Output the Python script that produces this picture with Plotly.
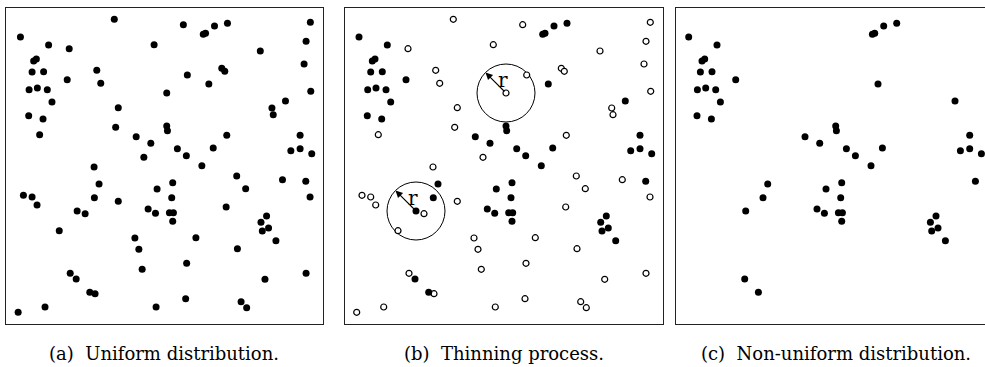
import plotly.graph_objects as go

# Point coordinates inside each square window (x from the left edge, y from the bottom edge)
kept_x = [14.5, 42.8, 27.8, 30.5, 26.2, 37.8, 61.5, 23.2, 31.5, 41.5, 46.2, 22.8, 37.2,
          161.5, 162.2, 130.8, 145.5, 198.2, 200.5, 209.5, 222.5, 203.8, 280.8, 295.5,
          172.2, 181.2, 208.2, 286.2, 295.5, 307.2, 196.8, 93.5, 88.8, 71.5, 151.8,
          142.8, 150.2, 70.5, 84.2, 167.5, 166.5, 164.2, 168.2, 167.5, 301.2, 261.8,
          256.2, 263.8, 257.5, 271.2]
kept_y = [287.0, 279.0, 263.0, 265.0, 252.0, 252.3, 244.3, 234.3, 236.0, 234.3, 222.0,
          208.3, 205.0, 198.0, 193.3, 187.3, 180.7, 289.7, 290.7, 298.0, 300.7, 240.0,
          223.0, 188.7, 175.3, 168.3, 176.0, 173.3, 175.3, 170.3, 158.3, 140.0, 126.3,
          113.0, 135.0, 115.0, 110.7, 45.0, 31.7, 141.3, 126.3, 111.3, 111.3, 102.7,
          142.7, 108.0, 101.7, 96.0, 93.0, 83.3]

thinned_x = [108.8, 63.5, 148.8, 91.2, 95.2, 161.5, 112.8, 33.8, 110.2, 138.5, 88.5,
             178.2, 305.8, 301.5, 255.5, 299.5, 216.8, 219.8, 182.2, 306.2, 267.2, 268.5,
             221.8, 17.5, 26.2, 31.2, 79.5, 112.8, 53.5, 129.5, 133.5, 136.8, 64.5, 89.5,
             12.2, 39.2, 150.8, 231.8, 240.8, 277.8, 305.5, 221.2, 190.8, 232.5, 181.5,
             301.5, 260.2, 180.5, 236.2, 241.8]
thinned_y = [304.7, 275.3, 279.3, 253.7, 240.7, 231.0, 216.3, 189.3, 196.7, 166.7, 157.0,
             299.3, 301.7, 282.7, 273.0, 260.0, 255.7, 252.7, 249.0, 232.7, 216.0, 209.3,
             188.7, 128.7, 127.0, 119.0, 110.3, 122.7, 93.3, 86.0, 74.7, 54.7, 50.7, 30.3,
             11.7, 17.0, 17.0, 148.0, 135.3, 144.3, 127.0, 117.0, 86.3, 75.3, 60.7,
             50.7, 44.7, 25.3, 22.3, 16.3]

# Thinning discs (centre taken from the two sets) and radius
disc_centres = [(thinned_x[5], thinned_y[5]), (kept_x[33], kept_y[33])]
disc_radius = 29.0

captions = ["(a)\u00a0\u00a0Uniform distribution.",
            "(b)\u00a0\u00a0Thinning process.",
            "(c)\u00a0\u00a0Non-uniform distribution."]

W, H = 985, 367
BOX_W, BOX_H = 318.5, 316.5
top_px, bot_px = 7.5, 324.0
ydom = [1 - bot_px / H, 1 - top_px / H]
FONT = "DejaVu Serif"

fig = go.Figure()

dot = dict(color="black", size=7, line=dict(width=0))
hollow = dict(color="white", size=6, line=dict(color="black", width=1.2))

fig.add_trace(go.Scatter(x=kept_x + thinned_x, y=kept_y + thinned_y, mode="markers",
                         marker=dot, xaxis="x", yaxis="y", hoverinfo="skip"))
fig.add_trace(go.Scatter(x=thinned_x, y=thinned_y, mode="markers",
                         marker=hollow, xaxis="x2", yaxis="y2", hoverinfo="skip"))
fig.add_trace(go.Scatter(x=kept_x, y=kept_y, mode="markers",
                         marker=dot, xaxis="x2", yaxis="y2", hoverinfo="skip"))
fig.add_trace(go.Scatter(x=kept_x, y=kept_y, mode="markers",
                         marker=dot, xaxis="x3", yaxis="y3", hoverinfo="skip"))

ax_common = dict(showgrid=False, zeroline=False, showticklabels=False, ticks="",
                 showline=True, linecolor="#222", linewidth=1, fixedrange=True)

fig.update_layout(
    width=W, height=H, margin=dict(l=0, r=0, t=0, b=0),
    paper_bgcolor="white", plot_bgcolor="white", showlegend=False,
    xaxis=dict(domain=[6 / W, 323 / W], range=[0, BOX_W], mirror=True, anchor="y", **ax_common),
    yaxis=dict(domain=ydom, range=[0, BOX_H], mirror=True, anchor="x", **ax_common),
    xaxis2=dict(domain=[344.5 / W, 663 / W], range=[0, BOX_W], mirror=True, anchor="y2", **ax_common),
    yaxis2=dict(domain=ydom, range=[0, BOX_H], mirror=True, anchor="x2", **ax_common),
    xaxis3=dict(domain=[675.7 / W, 1], range=[1.5, 1.5 + (W - 675.7)], mirror=True, anchor="y3", **ax_common),
    yaxis3=dict(domain=ydom, range=[0, BOX_H], mirror=False, anchor="x3", **ax_common),
)

shapes = []
annotations = []
for cx, cy in disc_centres:
    shapes.append(dict(type="circle", xref="x2", yref="y2",
                       x0=cx - disc_radius, x1=cx + disc_radius,
                       y0=cy - disc_radius, y1=cy + disc_radius,
                       line=dict(color="black", width=1), layer="below"))
    d = disc_radius * 0.707
    annotations.append(dict(xref="x2", yref="y2", axref="x2", ayref="y2",
                            x=cx - d, y=cy + d, ax=cx, ay=cy, text="",
                            showarrow=True, arrowhead=2, arrowsize=1.3, arrowwidth=1.1,
                            arrowcolor="black", standoff=0, startstandoff=0))
    annotations.append(dict(xref="x2", yref="y2", x=cx - 3, y=cy + 13, text="r",
                            showarrow=False, font=dict(family=FONT, size=20, color="black"),
                            xanchor="center", yanchor="middle"))

for cap, xc in zip(captions, [163.5, 504.5, 836.0]):
    annotations.append(dict(xref="paper", yref="paper", x=xc / W, y=1 - 353.0 / H,
                            text=cap, showarrow=False, xanchor="center", yanchor="middle",
                            font=dict(family=FONT, size=18, color="black")))

fig.update_layout(shapes=shapes, annotations=annotations)
fig.write_html("out.html")
